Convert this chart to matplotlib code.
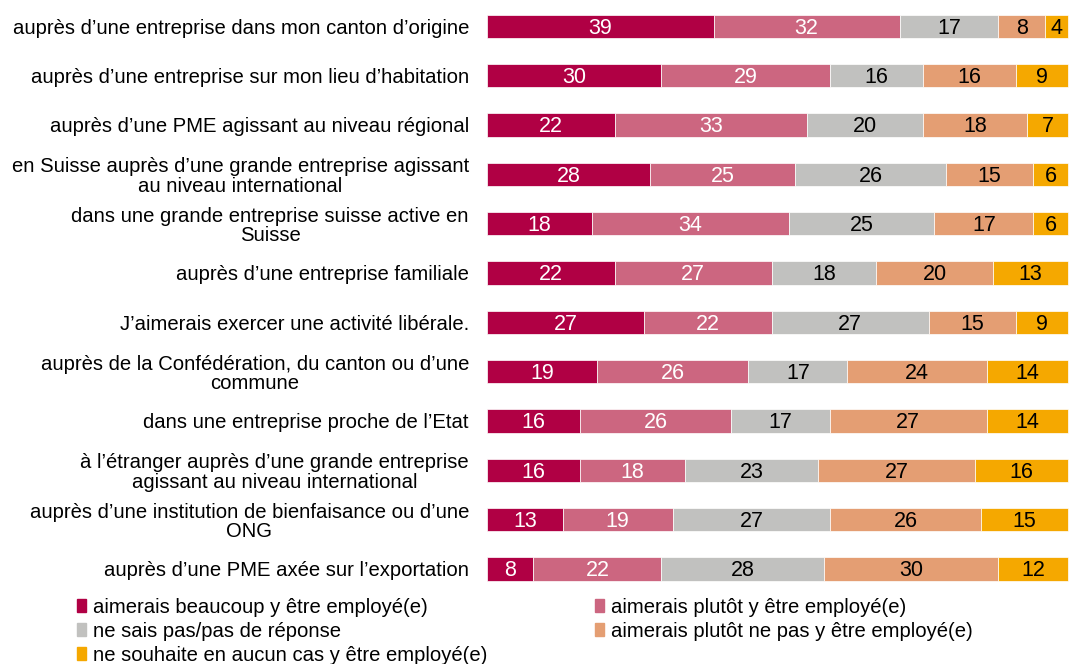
import matplotlib.pyplot as plt
from matplotlib.patches import Patch

plt.rcParams['font.family'] = ['Liberation Sans', 'DejaVu Sans']

categories = [
    "auprès d’une entreprise dans mon canton d’origine",
    "auprès d’une entreprise sur mon lieu d’habitation",
    "auprès d’une PME agissant au niveau régional",
    "en Suisse auprès d’une grande entreprise agissant\nau niveau international",
    "dans une grande entreprise suisse active en\nSuisse",
    "auprès d’une entreprise familiale",
    "J’aimerais exercer une activité libérale.",
    "auprès de la Confédération, du canton ou d’une\ncommune",
    "dans une entreprise proche de l’Etat",
    "à l’étranger auprès d’une grande entreprise\nagissant au niveau international",
    "auprès d’une institution de bienfaisance ou d’une\nONG",
    "auprès d’une PME axée sur l’exportation",
]

beaucoup = [39, 30, 22, 28, 18, 22, 27, 19, 16, 16, 13, 8]
plutot = [32, 29, 33, 25, 34, 27, 22, 26, 26, 18, 19, 22]
nesais = [17, 16, 20, 26, 25, 18, 27, 17, 17, 23, 27, 28]
plutot_pas = [8, 16, 18, 15, 17, 20, 15, 24, 27, 27, 26, 30]
aucun = [4, 9, 7, 6, 6, 13, 9, 14, 14, 16, 15, 12]

series = [beaucoup, plutot, nesais, plutot_pas, aucun]
names = [
    "aimerais beaucoup y être employé(e)",
    "aimerais plutôt y être employé(e)",
    "ne sais pas/pas de réponse",
    "aimerais plutôt ne pas y être employé(e)",
    "ne souhaite en aucun cas y être employé(e)",
]
colors = ["#B00044", "#CC6680", "#C1C1BF", "#E49E73", "#F5A800"]
text_colors = ["white", "white", "black", "black", "black"]

fig = plt.figure(figsize=(10.71, 6.64), dpi=100)
ax = fig.add_axes([0.4547, 0.106, 0.5453, 0.8916])

y = list(range(len(categories)))
left = [0] * len(categories)
for vals, col, tc in zip(series, colors, text_colors):
    bars = ax.barh(y, vals, left=left, height=0.47, color=col,
                   edgecolor="white", linewidth=0.5)
    for b, v in zip(bars, vals):
        ax.text(b.get_x() + b.get_width() / 2, b.get_y() + b.get_height() / 2 + 0.04,
                str(v), ha="center", va="center", color=tc, fontsize=15.5)
    left = [l + v for l, v in zip(left, vals)]

ax.set_xlim(0, 100.5)
ax.set_ylim(len(categories) - 0.5, -0.5)
ax.set_yticks(y)
ax.set_yticklabels(categories, fontsize=14.6, multialignment="center",
                   linespacing=1.05)
ax.tick_params(axis="y", length=0, pad=13)
ax.set_xticks([])
for s in ax.spines.values():
    s.set_visible(False)

handles = [Patch(color=c) for c in colors]
order = [0, 2, 4, 1, 3]
fig.legend([handles[i] for i in order], [names[i] for i in order],
           ncol=2, loc="upper left", bbox_to_anchor=(0.072, 0.1),
           frameon=False, fontsize=14.6, handlelength=0.45, handleheight=0.6,
           handletextpad=0.35, columnspacing=5.3, labelspacing=0.25,
           borderpad=0, borderaxespad=0)

fig.savefig("out.png", dpi=100)
